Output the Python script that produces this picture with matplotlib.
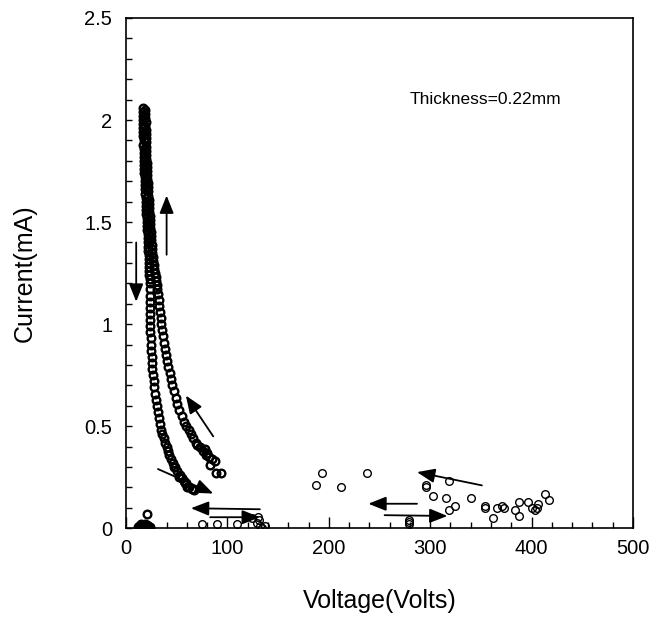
import matplotlib
matplotlib.use("Agg")
import matplotlib.pyplot as plt
from matplotlib.ticker import MultipleLocator

plt.rcParams['font.family'] = ['Liberation Sans', 'DejaVu Sans']

# descending branch (left curve)
down_i = [2.06, 2.04, 2.02, 2.00, 1.98, 1.96, 1.94, 1.92, 1.90, 1.88, 1.86, 1.84,
          1.82, 1.80, 1.78, 1.76, 1.74, 1.72, 1.70, 1.68, 1.66, 1.64, 1.62, 1.60,
          1.58, 1.56, 1.54, 1.52, 1.50, 1.48, 1.46, 1.44, 1.42, 1.40, 1.38, 1.36,
          1.34, 1.32, 1.30, 1.28, 1.26, 1.24, 1.22, 1.20, 1.17, 1.14, 1.11, 1.08,
          1.05, 1.02, 0.99, 0.96, 0.93, 0.90, 0.87, 0.84, 0.81, 0.78, 0.75, 0.72,
          0.69, 0.66, 0.63, 0.60, 0.57, 0.54, 0.51, 0.48, 0.46, 0.44, 0.42, 0.40,
          0.38, 0.36, 0.34, 0.32, 0.30, 0.28, 0.26, 0.245, 0.23, 0.22, 0.20, 0.19,
          0.185, 0.30, 0.25, 0.22, 0.20]
down_v = [16.8, 17.0, 16.7, 16.9, 17.1, 16.9, 17.2, 17.0, 17.3, 17.2, 17.5, 17.3,
          17.6, 17.7, 17.9, 18.1, 18.0, 18.4, 18.5, 18.8, 18.7, 19.1, 19.3, 19.5,
          19.6, 19.9, 20.1, 20.4, 20.7, 20.8, 21.0, 21.3, 21.5, 21.8, 21.9, 22.1,
          22.2, 22.5, 22.6, 22.8, 23.0, 23.1, 23.3, 23.5, 23.6, 23.7, 23.6, 23.8,
          23.7, 23.9, 23.8, 24.0, 24.2, 24.4, 24.8, 25.1, 25.6, 26.0, 26.5, 27.1,
          27.9, 28.6, 29.5, 30.5, 31.4, 32.2, 33.3, 34.6, 35.8, 37.2, 38.5, 40.0,
          41.5, 42.8, 44.6, 46.3, 48.5, 50.7, 53.0, 55.2, 57.5, 59.5, 62.5, 65.5,
          67.0, 47.0, 52.0, 58.0, 60.5]

# ascending branch (right curve)
up_i = [2.05, 2.03, 2.01, 1.99, 1.97, 1.95, 1.93, 1.91, 1.89, 1.87, 1.85, 1.83,
        1.81, 1.79, 1.77, 1.75, 1.73, 1.71, 1.69, 1.67, 1.65, 1.63, 1.61, 1.59,
        1.57, 1.55, 1.53, 1.51, 1.49, 1.47, 1.45, 1.43, 1.41, 1.39, 1.37, 1.35,
        1.33, 1.31, 1.29, 1.27, 1.25, 1.23, 1.21, 1.19, 1.17, 1.15, 1.12, 1.09,
        1.06, 1.03, 1.00, 0.97, 0.94, 0.91, 0.88, 0.85, 0.82, 0.79, 0.76, 0.73,
        0.70, 0.67, 0.64, 0.61, 0.58, 0.55, 0.52, 0.50, 0.48, 0.46, 0.44, 0.42,
        0.40, 0.38, 0.36, 0.35, 0.34, 0.33, 0.27, 0.27, 0.41, 0.37, 0.31, 0.39]
up_v = [18.6, 18.8, 18.9, 19.2, 19.0, 19.3, 19.4, 19.6, 19.5, 19.8, 19.9, 20.1,
        20.0, 20.3, 20.5, 20.7, 20.9, 21.1, 21.3, 21.5, 21.8, 22.0, 22.3, 22.5,
        22.8, 23.1, 23.3, 23.6, 23.9, 24.1, 24.4, 24.7, 25.0, 25.3, 25.7, 26.0,
        26.5, 27.0, 27.5, 28.0, 28.6, 29.2, 29.8, 30.4, 31.0, 31.6, 32.3, 32.9,
        33.4, 34.0, 34.6, 35.5, 36.5, 37.5, 38.6, 39.8, 40.8, 41.8, 43.0, 44.2,
        45.5, 47.0, 48.8, 50.5, 52.3, 54.8, 57.2, 59.5, 62.0, 64.0, 66.5, 69.0,
        72.5, 76.0, 79.0, 82.0, 85.0, 88.0, 88.5, 94.0, 70.0, 80.0, 83.0, 78.0]

# cluster at low voltage, zero current
cluster_v = [12, 13, 14, 15, 16, 17, 18, 19, 20, 21, 22, 23, 24, 15, 19, 21, 21]
cluster_i = [0.005, 0.01, 0.0, 0.01, 0.005, 0.0, 0.01, 0.0, 0.005, 0.0, 0.01, 0.0,
             0.005, 0.02, 0.02, 0.015, 0.07]

# near-zero points between 70 and 140 V
low_v = [75, 90, 109, 124, 129, 130, 131, 132, 134, 137]
low_i = [0.02, 0.02, 0.02, 0.05, 0.025, 0.054, 0.04, 0.01, 0.0, 0.01]

# high voltage scatter
high_v = [193, 187, 212, 238, 279, 279, 279, 296, 296, 303, 316, 319, 319, 324,
          340, 354, 354, 362, 366, 371, 373, 384, 388, 388, 396, 400, 403, 405,
          406, 413, 417]
high_i = [0.27, 0.21, 0.20, 0.27, 0.04, 0.03, 0.02, 0.21, 0.20, 0.16, 0.15, 0.23,
          0.09, 0.11, 0.15, 0.11, 0.10, 0.05, 0.10, 0.11, 0.10, 0.09, 0.06, 0.13,
          0.13, 0.10, 0.09, 0.10, 0.12, 0.17, 0.14]

# arrows: (start, end) in data units
arrows = [
    ((40, 1.34), (40, 1.63)),
    ((10, 1.40), (10, 1.11)),
    ((86, 0.45), (59, 0.65)),
    ((31.5, 0.29), (86, 0.17)),
    ((132, 0.093), (64, 0.098)),
    ((83, 0.054), (132, 0.054)),
    ((287, 0.12), (239, 0.12)),
    ((255, 0.064), (317, 0.06)),
    ((351, 0.21), (287, 0.275)),
]

fig = plt.figure(figsize=(6.6, 6.2), dpi=100)
ax = fig.add_axes([0.191, 0.148, 0.768, 0.823])

mk = dict(linestyle='none', marker='o', markersize=5.5, mfc='none', mec='black', mew=1.0)
dense = dict(mk, mew=1.7)
ax.plot(down_v, down_i, **dense)
ax.plot(up_v, up_i, **dense)
ax.plot(cluster_v, cluster_i, **dense)
ax.plot(low_v, low_i, **mk)
ax.plot(high_v, high_i, **mk)

for (x0, y0), (x1, y1) in arrows:
    ax.annotate('', xy=(x1, y1), xytext=(x0, y0),
                arrowprops=dict(arrowstyle='-|>,head_length=0.9,head_width=0.36',
                                mutation_scale=12, color='black', lw=1.3,
                                shrinkA=0, shrinkB=0))

ax.text(280, 2.1, 'Thickness=0.22mm', fontsize=12.5, va='center', ha='left')

ax.set_xlim(0, 500)
ax.set_ylim(0, 2.5)
ax.xaxis.set_major_locator(MultipleLocator(100))
ax.xaxis.set_minor_locator(MultipleLocator(20))
ax.yaxis.set_major_locator(MultipleLocator(0.5))
ax.yaxis.set_minor_locator(MultipleLocator(0.1))
ax.set_yticks([0, 0.5, 1, 1.5, 2, 2.5])
ax.set_yticklabels(['0', '0.5', '1', '1.5', '2', '2.5'])
ax.tick_params(which='both', direction='in', top=False, right=False, width=1)
ax.tick_params(axis='x', which='major', length=8, pad=8, labelsize=14.5)
ax.tick_params(axis='x', which='minor', length=4)
ax.tick_params(axis='y', which='major', length=4, pad=10, labelsize=14.5)
ax.tick_params(axis='y', which='minor', length=4)
for s in ax.spines.values():
    s.set_linewidth(1.2)

ax.set_xlabel('Voltage(Volts)', fontsize=18, labelpad=22)
ax.set_ylabel('Current(mA)', fontsize=18, labelpad=34)

fig.savefig('out.png', dpi=100)
